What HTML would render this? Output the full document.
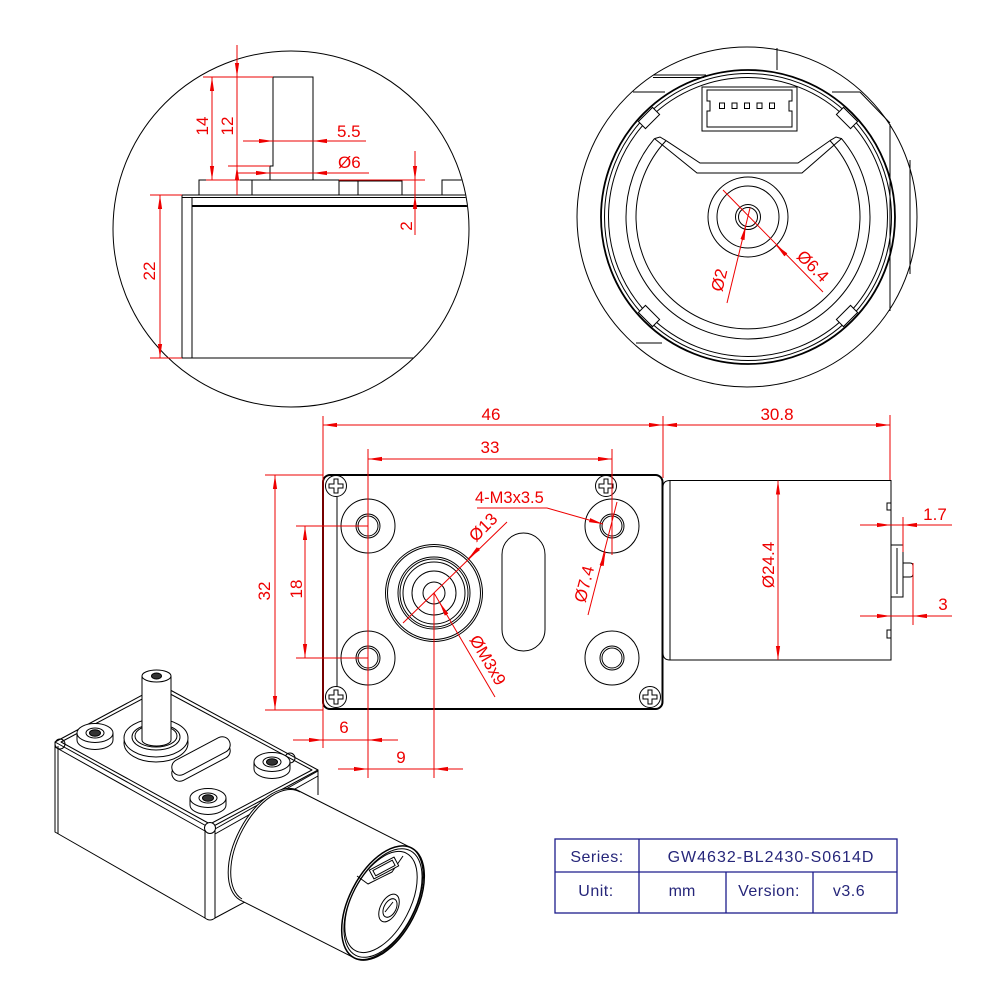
<!DOCTYPE html>
<html><head><meta charset="utf-8">
<style>
html,body{margin:0;padding:0;background:#fff;}
svg{display:block;}
.k{stroke:#000;stroke-width:1;fill:none;}
.r{stroke:#e00;stroke-width:1;fill:none;}
.t{fill:#e00;font-family:"Liberation Sans",sans-serif;font-size:17px;}
.b{fill:#26267a;font-family:"Liberation Sans",sans-serif;font-size:16px;}
</style></head><body>
<svg width="1000" height="1000" viewBox="0 0 1000 1000" xmlns="http://www.w3.org/2000/svg">
<defs>
<marker id="ar" viewBox="0 0 14 5" refX="14" refY="2.5" markerWidth="14" markerHeight="5" markerUnits="userSpaceOnUse" orient="auto-start-reverse"><path d="M0,0.4 L14,2.5 L0,4.6 Z" fill="#e00"/></marker>
<clipPath id="c1"><circle cx="291" cy="229" r="177.5"/></clipPath>
</defs>
<rect width="1000" height="1000" fill="#fff"/>

<!-- ============ LEFT DETAIL CIRCLE ============ -->
<circle cx="291" cy="229" r="178" class="k"/>
<g clip-path="url(#c1)" class="k">
 <rect x="182" y="195" width="320" height="163"/>
 <line x1="182" y1="197.5" x2="502" y2="197.5"/>
 <line x1="192" y1="206" x2="502" y2="206" stroke-width="2"/>
 <line x1="192" y1="197.5" x2="192" y2="358"/>
 <rect x="199" y="180" width="53" height="15"/>
 <rect x="252" y="180" width="87" height="15"/>
 <rect x="339" y="181" width="19" height="14"/>
 <rect x="358" y="181" width="44" height="14"/>
 <rect x="442" y="180" width="30" height="15"/>
 <path d="M270,180 V166 H273 V77 H313 V180"/>
</g>
<g class="r">
 <line x1="203" y1="77" x2="273" y2="77"/>
 <line x1="206" y1="180" x2="240" y2="180"/>
 <line x1="212" y1="77" x2="212" y2="180" marker-start="url(#ar)" marker-end="url(#ar)"/>
 <line x1="237" y1="45" x2="237" y2="195"/>
 <line x1="237" y1="62" x2="237" y2="77" marker-end="url(#ar)"/>
 <line x1="237" y1="181" x2="237" y2="166" marker-end="url(#ar)"/>
 <line x1="228" y1="166" x2="270" y2="166"/>
 <line x1="243" y1="141" x2="366" y2="141"/>
 <line x1="258" y1="141" x2="273" y2="141" marker-end="url(#ar)"/>
 <line x1="328" y1="141" x2="313" y2="141" marker-end="url(#ar)"/>
 <line x1="238" y1="173" x2="369" y2="173"/>
 <line x1="255" y1="173" x2="270" y2="173" marker-end="url(#ar)"/>
 <line x1="328" y1="173" x2="313" y2="173" marker-end="url(#ar)"/>
 <line x1="415" y1="151" x2="415" y2="235"/>
 <line x1="415" y1="164" x2="415" y2="180" marker-end="url(#ar)"/>
 <line x1="415" y1="211" x2="415" y2="195" marker-end="url(#ar)"/>
 <line x1="339" y1="180" x2="425" y2="180"/>
 <line x1="160" y1="195" x2="160" y2="358" marker-start="url(#ar)" marker-end="url(#ar)"/>
 <line x1="150" y1="195" x2="182" y2="195"/>
 <line x1="150" y1="358" x2="182" y2="358"/>
</g>
<text class="t" transform="translate(208,126) rotate(-90)" text-anchor="middle">14</text>
<text class="t" transform="translate(233,126) rotate(-90)" text-anchor="middle">12</text>
<text class="t" x="337" y="137">5.5</text>
<text class="t" x="338" y="168">Ø6</text>
<text class="t" transform="translate(412,226) rotate(-90)" text-anchor="middle">2</text>
<text class="t" transform="translate(155,271) rotate(-90)" text-anchor="middle">22</text>

<!-- ============ RIGHT DETAIL CIRCLE ============ -->
<g class="k">
 <circle cx="747" cy="217" r="170"/>
 <line x1="653" y1="75" x2="706" y2="75"/>
 <line x1="653" y1="77.5" x2="704" y2="77.5"/>
 <line x1="777" y1="48" x2="777" y2="70"/>
 <line x1="633" y1="92" x2="665" y2="92"/>
 <line x1="832" y1="92" x2="860" y2="92"/>
 <line x1="860" y1="92" x2="890" y2="123"/>
 <line x1="636" y1="343" x2="662" y2="343"/>
 <line x1="890" y1="124" x2="890" y2="311"/>
 <line x1="910" y1="160" x2="910" y2="274"/>
 <circle cx="748" cy="217" r="147" stroke-width="1.8"/>
 <circle cx="748" cy="217" r="143.5"/>
 <circle cx="748" cy="217" r="139.5"/>
 <g fill="#fff">
  <rect x="-10" y="-5" width="20" height="10" transform="translate(649,118) rotate(-45)"/>
  <rect x="-10" y="-5" width="20" height="10" transform="translate(847,118) rotate(45)"/>
  <rect x="-10" y="-5" width="20" height="10" transform="translate(649,316) rotate(45)"/>
  <rect x="-10" y="-5" width="20" height="10" transform="translate(847,316) rotate(-45)"/>
 </g>
 <path d="M654.5,138.6 L697,173 L802,173 L841.5,138.6 A122,122 0 1 1 654.5,138.6"/>
 <path d="M666,140.6 L700,163 L798,163 L830,140.6 A112,112 0 1 1 666,140.6"/>
 <path d="M654.5,138.6 L660,137 L666,140.6 M841.5,138.6 L836,137 L830,140.6"/>
 <rect x="702" y="87" width="95" height="44"/>
 <path d="M707,90 H792 V101 H789 V111 H792 V127 H707 V111 H710 V101 H707 Z"/>
 <rect x="719.5" y="103" width="5" height="5.5"/>
 <rect x="732" y="103" width="5" height="5.5"/>
 <rect x="744.5" y="103" width="5" height="5.5"/>
 <rect x="757" y="103" width="5" height="5.5"/>
 <rect x="769.5" y="103" width="5" height="5.5"/>
 <circle cx="748" cy="217" r="40"/>
 <circle cx="748" cy="217" r="31"/>
 <circle cx="748" cy="217" r="12.5"/>
 <circle cx="748" cy="217" r="9.5"/>
</g>
<g class="r">
 <line x1="723" y1="190" x2="823" y2="292"/>
 <line x1="786" y1="255" x2="776" y2="245" marker-end="url(#ar)"/>
 <line x1="750" y1="208" x2="727" y2="303"/>
 <line x1="742.4" y1="240" x2="745.7" y2="226" marker-end="url(#ar)"/>
</g>
<text class="t" transform="translate(813,266) rotate(45)" y="6" text-anchor="middle">Ø6.4</text>
<text class="t" transform="translate(719,280) rotate(-76.4)" y="6" text-anchor="middle">Ø2</text>

<!-- ============ FRONT VIEW ============ -->
<g class="k">
 <rect x="323" y="475" width="339.5" height="234" rx="7" stroke-width="2"/>
 <line x1="337" y1="497" x2="337" y2="687"/>
 <circle cx="336" cy="486" r="10.5"/>
 <circle cx="606" cy="486" r="10.5"/>
 <circle cx="336" cy="697" r="10.5"/>
 <circle cx="650" cy="697" r="10.5"/>
 <path d="M334,479 H338 V484 H343 V488 H338 V493 H334 V488 H329 V484 H334 Z"/>
 <path d="M604,479 H608 V484 H613 V488 H608 V493 H604 V488 H599 V484 H604 Z"/>
 <path d="M334,690 H338 V695 H343 V699 H338 V704 H334 V699 H329 V695 H334 Z"/>
 <path d="M648,690 H652 V695 H657 V699 H652 V704 H648 V699 H643 V695 H648 Z"/>
 <circle cx="368" cy="526" r="27"/><circle cx="368" cy="526" r="12"/><circle cx="368" cy="526" r="10"/>
 <circle cx="612" cy="526" r="27"/><circle cx="612" cy="526" r="12"/><circle cx="612" cy="526" r="10"/>
 <circle cx="368" cy="658" r="27"/><circle cx="368" cy="658" r="12"/><circle cx="368" cy="658" r="10"/>
 <circle cx="612" cy="658" r="27"/><circle cx="612" cy="658" r="12"/><circle cx="612" cy="658" r="10"/>
 <circle cx="434" cy="593" r="48.5"/>
 <circle cx="434" cy="593" r="46.5"/>
 <circle cx="434" cy="593" r="36"/>
 <circle cx="434" cy="593" r="34"/>
 <circle cx="434" cy="593" r="31"/>
 <circle cx="434" cy="593" r="22"/>
 <circle cx="434" cy="593" r="11"/>
 <rect x="502" y="533" width="43" height="118" rx="21.5"/>
 <path d="M663,487 Q663,480.5 670,480.5 H891 V660 H670 Q663,660 663,653"/>
 <line x1="670" y1="480.5" x2="670" y2="660"/>
 <path d="M891,503 H887 V510 H891 M891,630 H887 V638 H891"/>
 <rect x="891" y="545" width="12" height="52"/>
 <line x1="897" y1="548" x2="897" y2="594"/>
 <path d="M903,563 H910 Q913,563 913,566 V574 Q913,577 910,577 H903"/>
</g>
<g class="r">
 <line x1="323" y1="416" x2="323" y2="748"/>
 <line x1="663" y1="416" x2="663" y2="478"/>
 <line x1="890" y1="415" x2="890" y2="480"/>
 <line x1="323" y1="425" x2="663" y2="425" marker-start="url(#ar)" marker-end="url(#ar)"/>
 <line x1="663" y1="425" x2="890" y2="425" marker-start="url(#ar)" marker-end="url(#ar)"/>
 <line x1="368" y1="449" x2="368" y2="778"/>
 <line x1="612" y1="449" x2="612" y2="555"/>
 <line x1="368" y1="459" x2="612" y2="459" marker-start="url(#ar)" marker-end="url(#ar)"/>
 <line x1="265" y1="475" x2="323" y2="475"/>
 <line x1="265" y1="710" x2="323" y2="710"/>
 <line x1="275" y1="475" x2="275" y2="710" marker-start="url(#ar)" marker-end="url(#ar)"/>
 <line x1="296" y1="526" x2="368" y2="526"/>
 <line x1="296" y1="658" x2="368" y2="658"/>
 <line x1="305" y1="526" x2="305" y2="658" marker-start="url(#ar)" marker-end="url(#ar)"/>
 <line x1="293" y1="740" x2="398" y2="740"/>
 <line x1="307" y1="740" x2="323" y2="740" marker-end="url(#ar)"/>
 <line x1="384" y1="740" x2="368" y2="740" marker-end="url(#ar)"/>
 <line x1="338" y1="769" x2="463" y2="769"/>
 <line x1="352" y1="769" x2="368" y2="769" marker-end="url(#ar)"/>
 <line x1="450" y1="769" x2="434" y2="769" marker-end="url(#ar)"/>
 <line x1="434" y1="593" x2="434" y2="778"/>
 <line x1="507" y1="522" x2="403" y2="623"/>
 <line x1="479" y1="548" x2="468.5" y2="558.5" marker-end="url(#ar)"/>
 <line x1="434" y1="593" x2="495" y2="697"/>
 <line x1="446.6" y1="614.6" x2="439.6" y2="602.5" marker-end="url(#ar)"/>
 <polyline points="477,508 547,508 603,524" marker-end="url(#ar)"/>
 <line x1="617" y1="502" x2="588" y2="615"/>
 <line x1="601.5" y1="566" x2="605.3" y2="552" marker-end="url(#ar)"/>
 <line x1="778" y1="480.5" x2="778" y2="660" marker-start="url(#ar)" marker-end="url(#ar)"/>
 <line x1="903" y1="517" x2="903" y2="552"/>
 <line x1="860" y1="525" x2="952" y2="525"/>
 <line x1="874" y1="525" x2="891" y2="525" marker-end="url(#ar)"/>
 <line x1="920" y1="525" x2="903" y2="525" marker-end="url(#ar)"/>
 <line x1="913" y1="563" x2="913" y2="625"/>
 <line x1="860" y1="616" x2="952" y2="616"/>
 <line x1="874" y1="616" x2="891" y2="616" marker-end="url(#ar)"/>
 <line x1="930" y1="616" x2="913" y2="616" marker-end="url(#ar)"/>
</g>
<text class="t" x="491" y="420" text-anchor="middle">46</text>
<text class="t" x="777" y="420" text-anchor="middle">30.8</text>
<text class="t" x="490" y="453" text-anchor="middle">33</text>
<text class="t" transform="translate(270,591) rotate(-90)" text-anchor="middle">32</text>
<text class="t" transform="translate(302,589) rotate(-90)" text-anchor="middle">18</text>
<text class="t" x="344" y="733" text-anchor="middle">6</text>
<text class="t" x="401" y="763" text-anchor="middle">9</text>
<text class="t" x="475" y="503" style="font-size:16.5px">4-M3x3.5</text>
<text class="t" transform="translate(483,527) rotate(-45)" y="6" text-anchor="middle">Ø13</text>
<text class="t" transform="translate(488,660) rotate(59.6)" y="6" text-anchor="middle">ØM3x9</text>
<text class="t" transform="translate(584,584) rotate(-75.6)" y="6" text-anchor="middle">Ø7.4</text>
<text class="t" transform="translate(768,565) rotate(-90)" y="6" text-anchor="middle">Ø24.4</text>
<text class="t" x="935" y="520" text-anchor="middle">1.7</text>
<text class="t" x="943" y="610" text-anchor="middle">3</text>

<!-- ============ ISOMETRIC VIEW ============ -->
<g class="k" stroke-linejoin="round">
 <path d="M55,742 L161,685 L318,770 L210,828 Z" fill="#fff"/>
 <path d="M61,742 L161,689 L312,770 L210,824 Z"/>
 <path d="M55,742 V832 L205,918"/>
 <path d="M55,747 L205,831"/>
 <path d="M58,746 V834"/>
 <path d="M205,829 V918 Q210,922 215,918 V829"/>
 <path d="M215,829 L318,771"/>
 <path d="M215,834 L318,776"/>
 <path d="M318,770 V795"/>
 <path d="M215,918 L256,896"/>
 <circle cx="60" cy="744" r="5"/>
 <circle cx="290" cy="758" r="5"/>
 <circle cx="210" cy="828" r="5.5" fill="#fff"/>
 <ellipse cx="156" cy="743" rx="32" ry="19" fill="#fff"/>
 <ellipse cx="156" cy="738" rx="32" ry="19" fill="#fff"/>
 <ellipse cx="156" cy="737" rx="24" ry="13"/>
 <ellipse cx="156" cy="736" rx="21" ry="11"/>
 <path d="M142,676 V740 A14.5,6 0 0 0 171,740 V676 Z" fill="#fff"/>
 <ellipse cx="156.5" cy="676" rx="14.5" ry="6" fill="#fff"/>
 <ellipse cx="156.5" cy="676" rx="5" ry="3" fill="#333"/>
 <path d="M77,733 V740 A18,9.5 0 0 0 113,740 V733" fill="#fff"/>
 <ellipse cx="95" cy="733" rx="18" ry="9.5" fill="#fff"/>
 <ellipse cx="95" cy="733" rx="9" ry="5"/>
 <ellipse cx="95" cy="733" rx="5.5" ry="3.2" fill="#333"/>
 <path d="M254,762 V769 A18,9.5 0 0 0 290,769 V762" fill="#fff"/>
 <ellipse cx="272" cy="762" rx="18" ry="9.5" fill="#fff"/>
 <ellipse cx="272" cy="762" rx="9" ry="5"/>
 <ellipse cx="272" cy="762" rx="5.5" ry="3.2" fill="#333"/>
 <path d="M190,798 V805 A18,9.5 0 0 0 226,805 V798" fill="#fff"/>
 <ellipse cx="208" cy="798" rx="18" ry="9.5" fill="#fff"/>
 <ellipse cx="208" cy="798" rx="9" ry="5"/>
 <ellipse cx="208" cy="798" rx="5.5" ry="3.2" fill="#333"/>
 <rect x="-32" y="-8" width="64" height="16" rx="8" fill="#fff" transform="translate(201,762) rotate(-28)"/>
 <rect x="-32" y="-8" width="64" height="16" rx="8" fill="#fff" transform="translate(201,756) rotate(-28)"/>
 <path d="M297,790 L411.7,848.1 A62,33.5 117.6 0 1 354.3,957.9 L239.6,899.8 A62,33.5 117.6 0 1 297,790 Z" fill="#fff"/>
 <path d="M242,899 A60,32 117.6 0 1 300,792"/>
 <ellipse cx="383" cy="903" rx="62" ry="33.5" transform="rotate(117.6 383 903)" stroke-width="1.5"/>
 <ellipse cx="383" cy="903" rx="59" ry="31.5" transform="rotate(117.6 383 903)"/>
 <ellipse cx="381" cy="902" rx="55" ry="29" transform="rotate(117.6 381 902)"/>
 <path d="M357,876 L368,884 L392,872 L403,856"/>
 <rect x="-14" y="-5" width="28" height="10" transform="translate(384,868) rotate(-28)" fill="#fff"/>
 <rect x="-11" y="-3" width="22" height="6" transform="translate(384,868) rotate(-28)"/>
 <ellipse cx="389" cy="908" rx="15" ry="8.5" transform="rotate(117.6 389 908)"/>
 <ellipse cx="390" cy="908" rx="10" ry="6" transform="rotate(117.6 390 908)"/>
 <path d="M385,912 L393,902"/>
</g>

<!-- ============ TABLE ============ -->
<g stroke="#1c1c8c" stroke-width="1.3" fill="none">
 <rect x="555" y="839" width="342" height="74"/>
 <line x1="555" y1="872" x2="897" y2="872"/>
 <line x1="639" y1="839" x2="639" y2="913"/>
 <line x1="726" y1="872" x2="726" y2="913"/>
 <line x1="813" y1="872" x2="813" y2="913"/>
</g>
<text class="b" x="597" y="862" text-anchor="middle" style="letter-spacing:0.5px">Series:</text>
<text class="b" x="771" y="862" text-anchor="middle" style="letter-spacing:1px">GW4632-BL2430-S0614D</text>
<text class="b" x="596" y="896" text-anchor="middle" style="letter-spacing:0.5px">Unit:</text>
<text class="b" x="682" y="896" text-anchor="middle">mm</text>
<text class="b" x="769" y="896" text-anchor="middle" style="letter-spacing:0.5px">Version:</text>
<text class="b" x="849" y="896" text-anchor="middle" style="letter-spacing:0.5px">v3.6</text>
</svg>
</body></html>
